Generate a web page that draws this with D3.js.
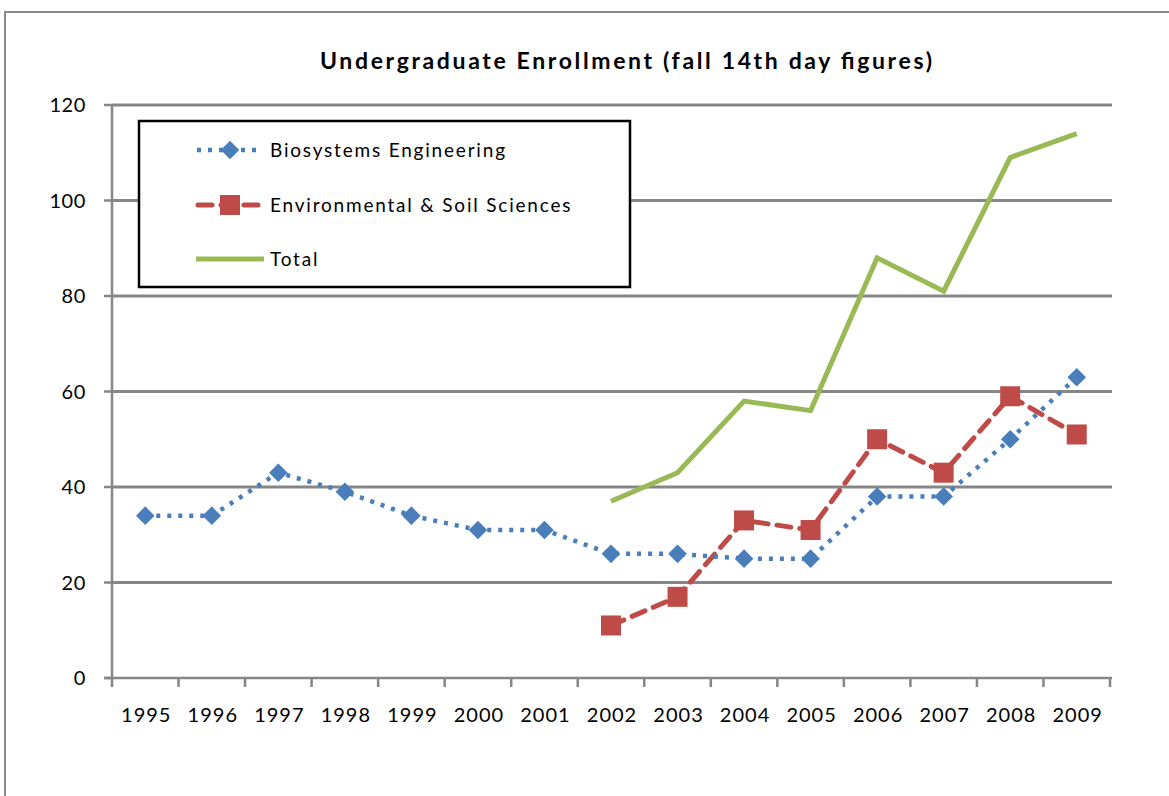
<!DOCTYPE html>
<html>
<head>
<meta charset="utf-8">
<title>Undergraduate Enrollment</title>
<script src="https://d3js.org/d3.v7.min.js"></script>
<style>
	body { margin: 0; background: #fff; }
	text { font-family: Lato, 'Open Sans', sans-serif; fill: #000; }
	.grid line { stroke: #868686; stroke-width: 3; }
	.axis line { stroke: #868686; stroke-width: 2.5; }
</style>
</head>
<body>
<script>
// chart data
var years = ["1995","1996","1997","1998","1999","2000","2001","2002","2003","2004","2005","2006","2007","2008","2009"];
var bioEng = [34, 34, 43, 39, 34, 31, 31, 26, 26, 25, 25, 38, 38, 50, 63];
var envSoil = [null, null, null, null, null, null, null, 11, 17, 33, 31, 50, 43, 59, 51];
var total = [null, null, null, null, null, null, null, 37, 43, 58, 56, 88, 81, 109, 114];
var yTicks = [0, 20, 40, 60, 80, 100, 120];
var seriesNames = ["Biosystems Engineering", "Environmental & Soil Sciences", "Total"];

var W = 1169, H = 796;
var svg = d3.select("body").append("svg").attr("width", W).attr("height", H);

// outer chart frame
svg.append("path")
	.attr("d", "M5,796 L5,12 L1169,12")
	.attr("fill", "none").attr("stroke", "#8a8a8a").attr("stroke-width", 2);

var x = d3.scaleBand().domain(years).range([112, 1110]);
var y = d3.scaleLinear().domain([0, 120]).range([678, 105]);

// title
svg.append("text")
	.attr("x", 626).attr("y", 69)
	.attr("text-anchor", "middle")
	.style("font-size", "23px").style("font-weight", "bold")
	.attr("textLength", 612).attr("lengthAdjust", "spacing")
	.text("Undergraduate Enrollment (fall 14th day figures)");

// gridlines
svg.append("g").attr("class", "grid")
	.selectAll("line").data(yTicks.slice(1)).enter().append("line")
	.attr("x1", 112).attr("x2", 1112)
	.attr("y1", d => y(d)).attr("y2", d => y(d));

// y axis
var yAxis = svg.append("g").attr("class", "axis");
yAxis.append("line").attr("x1", 112).attr("x2", 112).attr("y1", y(120) - 1).attr("y2", y(0));
yAxis.selectAll(".tk").data(yTicks).enter().append("line").attr("class", "tk")
	.attr("x1", 104).attr("x2", 112)
	.attr("y1", d => y(d)).attr("y2", d => y(d));
yAxis.selectAll(".lbl").data(yTicks).enter().append("text").attr("class", "lbl")
	.attr("x", 86).attr("y", d => y(d) + 7)
	.attr("text-anchor", "end")
	.attr("letter-spacing", "0.6px")
	.style("font-size", "20px")
	.text(d => d);

// x axis baseline + ticks between categories
var xAxis = svg.append("g").attr("class", "axis");
xAxis.append("line").attr("x1", 104).attr("x2", 1112).attr("y1", y(0)).attr("y2", y(0));
var bounds = years.map(d => x(d)).concat([x.range()[1]]);
xAxis.selectAll(".tk").data(bounds).enter().append("line").attr("class", "tk")
	.attr("x1", d => d).attr("x2", d => d)
	.attr("y1", y(0)).attr("y2", y(0) + 9);
xAxis.selectAll(".lbl").data(years).enter().append("text").attr("class", "lbl")
	.attr("x", d => x(d) + x.bandwidth() / 2 + 1)
	.attr("y", 722)
	.attr("text-anchor", "middle")
	.attr("letter-spacing", "1px")
	.style("font-size", "20px")
	.text(d => d);

var cx = (d, i) => x(years[i]) + x.bandwidth() / 2;
var lineGen = d3.line()
	.defined(d => d != null)
	.x(cx)
	.y(d => y(d));

var blue = "#4a7ebb", red = "#be4b48", green = "#98b954";

// total line
svg.append("path").datum(total)
	.attr("d", lineGen)
	.attr("fill", "none").attr("stroke", green).attr("stroke-width", 5);

// environmental & soil sciences
svg.append("path").datum(envSoil)
	.attr("d", lineGen)
	.attr("fill", "none").attr("stroke", red).attr("stroke-width", 5)
	.attr("stroke-dasharray", "14,9").attr("stroke-linecap", "round");
svg.append("g").selectAll("rect").data(envSoil.map((v, i) => ({v: v, i: i})).filter(d => d.v != null))
	.enter().append("rect")
	.attr("x", d => cx(d.v, d.i) - 10).attr("y", d => y(d.v) - 10)
	.attr("width", 20).attr("height", 20)
	.attr("fill", red);

// biosystems engineering
svg.append("path").datum(bioEng)
	.attr("d", lineGen)
	.attr("fill", "none").attr("stroke", blue).attr("stroke-width", 4.5)
	.attr("stroke-dasharray", "4,7");
svg.append("g").selectAll("path").data(bioEng)
	.enter().append("path")
	.attr("d", d3.symbol().type(d3.symbolDiamond2).size(220))
	.attr("transform", (d, i) => "translate(" + cx(d, i) + "," + y(d) + ")")
	.attr("fill", blue);

// legend
var lg = svg.append("g");
lg.append("rect")
	.attr("x", 139).attr("y", 121).attr("width", 491).attr("height", 166)
	.attr("fill", "#fff").attr("stroke", "#000").attr("stroke-width", 2.5);
var rowsY = [150, 205, 259];
lg.append("line").attr("x1", 197).attr("x2", 262).attr("y1", rowsY[0]).attr("y2", rowsY[0])
	.attr("stroke", blue).attr("stroke-width", 4.5).attr("stroke-dasharray", "4,7");
lg.append("path").attr("d", d3.symbol().type(d3.symbolDiamond2).size(220))
	.attr("transform", "translate(230," + rowsY[0] + ")").attr("fill", blue);
lg.append("line").attr("x1", 198).attr("x2", 262).attr("y1", rowsY[1]).attr("y2", rowsY[1])
	.attr("stroke", red).attr("stroke-width", 5).attr("stroke-dasharray", "14,9").attr("stroke-linecap", "round");
lg.append("rect").attr("x", 220).attr("y", rowsY[1] - 10).attr("width", 20).attr("height", 20).attr("fill", red);
lg.append("line").attr("x1", 196).attr("x2", 264).attr("y1", rowsY[2]).attr("y2", rowsY[2])
	.attr("stroke", green).attr("stroke-width", 5);
lg.selectAll(".ltxt").data(seriesNames).enter().append("text").attr("class", "ltxt")
	.attr("x", 270).attr("y", (d, i) => rowsY[i] + 7)
	.attr("letter-spacing", "1.8px")
	.style("font-size", "19px")
	.text(d => d);
</script>
</body>
</html>
